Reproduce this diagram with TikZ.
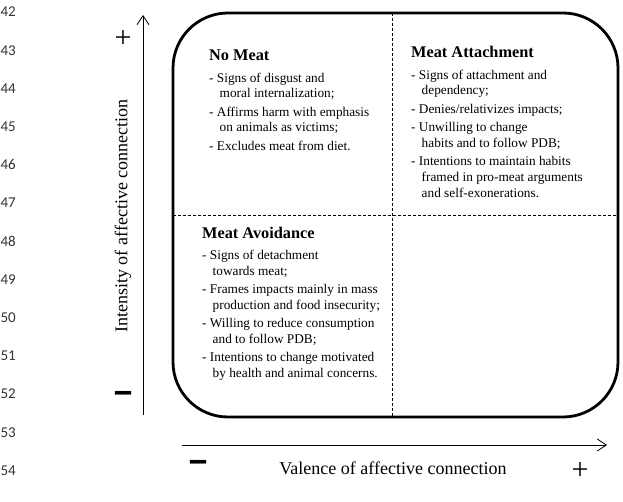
\documentclass[tikz,border=0pt]{standalone}
\usepackage{fontspec}
\setmainfont{Liberation Serif}
\newfontfamily\numfont{Carlito}
\usetikzlibrary{arrows.meta}
\definecolor{numgray}{HTML}{333333}
\tikzset{
  linenum/.style={anchor=east, inner sep=0pt, font=\numfont\fontsize{15}{15}\selectfont, text=numgray},
  qtitle/.style={anchor=base west, inner sep=0pt, font=\bfseries\fontsize{16.3}{16.3}\selectfont},
  qbody/.style={anchor=north west, inner sep=0pt, align=left, font=\fontsize{13.3}{15.8}\selectfont},
  axis/.style={line width=0.8pt, -{Straight Barb[length=9pt,width=12pt,line width=0.8pt]}},
  divider/.style={line width=0.8pt, dash pattern=on 3pt off 2pt},
  axlabel/.style={inner sep=0pt, font=\fontsize{18}{18}\selectfont},
  sign/.style={inner sep=0pt, font=\fontsize{30}{30}\selectfont},
}
\newcommand{\ind}{\hspace*{10.5pt}}
\newcommand{\bigminus}{\scalebox{1.35}[2.0]{\fontsize{26}{26}\selectfont\bfseries −}}
\begin{document}
\begin{tikzpicture}[x=1pt,y=-1pt]
\useasboundingbox (0,0) rectangle (623,502);
% line numbers
\foreach \n [count=\i from 0] in {42,...,54}
  \node[linenum] (ln\n) at (16,12+38.2*\i) {\n};
% quadrant box
\node[draw, line width=2.8pt, rounded corners=55pt, minimum width=445pt, minimum height=404pt, inner sep=0pt] (box) at (395.5,215) {};
\coordinate (vt) at (392,13);
\coordinate (vb) at (392,417);
\coordinate (hl) at (173,215);
\coordinate (hr) at (618,215);
\draw[divider] (vt) -- (vb);
\draw[divider] (hl) -- (hr);
% axes
\coordinate (ya) at (143,415);
\coordinate (yb) at (143,15);
\coordinate (xa) at (182,445);
\coordinate (xb) at (607,445);
\draw[axis] (ya) -- (yb);
\draw[axis] (xa) -- (xb);
\node[axlabel, rotate=90] (ylab) at (123,216) {Intensity of affective connection};
\node[axlabel] (xlab) at (393,468) {Valence of affective connection};
\node[sign] (yplus) at (123,39) {+};
\node[sign] (xplus) at (580,471) {+};
\node[inner sep=0pt] (yminus) at (123,401) {\bigminus};
\node[inner sep=0pt] (xminus) at (198,470) {\bigminus};
% quadrants
\node[qtitle] (t1) at (209,61) {No Meat};
\node[qbody] (b1) at (209,72.5) {- Signs of disgust and\\\ind moral internalization;\\[2.5pt]
- Affirms harm with emphasis\\\ind on animals as victims;\\[2.5pt]
- Excludes meat from diet.};
\node[qtitle] (t2) at (411,58) {Meat Attachment};
\node[qbody] (b2) at (411,69.5) {- Signs of attachment and\\\ind dependency;\\[2.5pt]
- Denies/relativizes impacts;\\[2.5pt]
- Unwilling to change\\\ind habits and to follow PDB;\\[2.5pt]
- Intentions to maintain habits\\\ind framed in pro-meat arguments\\\ind and self-exonerations.};
\node[qtitle] (t3) at (202,239) {Meat Avoidance};
\node[qbody] (b3) at (202,250) {- Signs of detachment\\\ind towards meat;\\[2.5pt]
- Frames impacts mainly in mass\\\ind production and food insecurity;\\[2.5pt]
- Willing to reduce consumption\\\ind and to follow PDB;\\[2.5pt]
- Intentions to change motivated\\\ind by health and animal concerns.};
\end{tikzpicture}
\end{document}
